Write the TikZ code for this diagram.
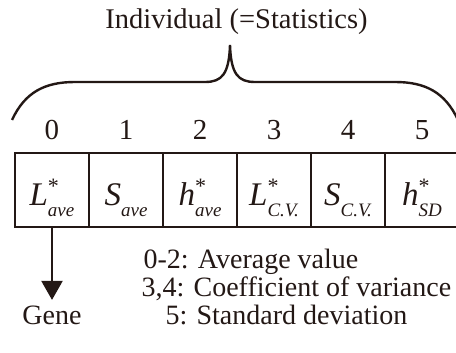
\documentclass[tikz,border=0pt]{standalone}
\usepackage{fontspec}
\setmainfont{Liberation Serif}
\usetikzlibrary{positioning,arrows.meta}
\definecolor{inkBrown}{RGB}{35, 24, 21}
% italic variable with star on top and subscript below
\newcommand{\cellvar}[3]{{\fontsize{33}{33}\selectfont\itshape #1}\rlap{\raisebox{12pt}{\fontsize{22}{22}\selectfont #3}}\raisebox{-12pt}{\fontsize{19}{19}\selectfont\itshape #2}}

\begin{document}
\begin{tikzpicture}[x=1pt, y=-1pt, inkBrown,
    cell/.style={draw=inkBrown, line width=1.6pt, minimum width=74pt, inner sep=0pt, outer sep=0pt, text height=52pt, text depth=22pt},
    digit/.style={anchor=base, font=\fontsize{29}{29}\selectfont},
    note/.style={anchor=base west, font=\fontsize{28}{28}\selectfont}]
        \useasboundingbox (0,0) rectangle (456,353);

        % Title and brace
        \node[anchor=base, font=\fontsize{28.5}{28.5}\selectfont] (title) at (236.5,29) {Individual (=Statistics)};
        \draw[line width=2.4pt] (12,120) .. controls (25,92) and (45,82) .. (75,82) -- (205,82)
          .. controls (222,82) and (229,74) .. (230,45) .. controls (231,74) and (238,82) .. (255,82)
          -- (395,82) .. controls (425,82) and (445,92) .. (458,120);

        % Cells
        \node[cell] (c0) at (52,190) {\cellvar{L}{ave}{*}};
        \node[cell, right=0pt of c0] (c1) {\cellvar{S}{ave}{}};
        \node[cell, right=0pt of c1] (c2) {\cellvar{h}{ave}{*}};
        \node[cell, right=0pt of c2] (c3) {\cellvar{L}{C.V.}{*}};
        \node[cell, right=0pt of c3] (c4) {\cellvar{S}{C.V.}{}};
        \node[cell, right=0pt of c4] (c5) {\cellvar{h}{SD}{*}};

        % Indices
        \node[digit] (d0) at ([yshift=13pt]c0.north) {0};
        \node[digit] (d1) at ([yshift=13pt]c1.north) {1};
        \node[digit] (d2) at ([yshift=13pt]c2.north) {2};
        \node[digit] (d3) at ([yshift=13pt]c3.north) {3};
        \node[digit] (d4) at ([yshift=13pt]c4.north) {4};
        \node[digit] (d5) at ([yshift=13pt]c5.north) {5};

        % Gene
        \node[note, anchor=base] (gene) at (52,324) {Gene};
        \draw[-{Triangle[width=21pt,length=19pt]}, line width=2.2pt, shorten >=2pt] (c0.south) -- (gene.north);

        % Legend
        \node[note] (avg) at (140,268) {0-2: Average value};
        \node[note] (cov) at (138,296) {3,4: Coefficient of variance};
        \node[note] (sd) at (162,324) {5: Standard deviation};
      \end{tikzpicture}
\end{document}
